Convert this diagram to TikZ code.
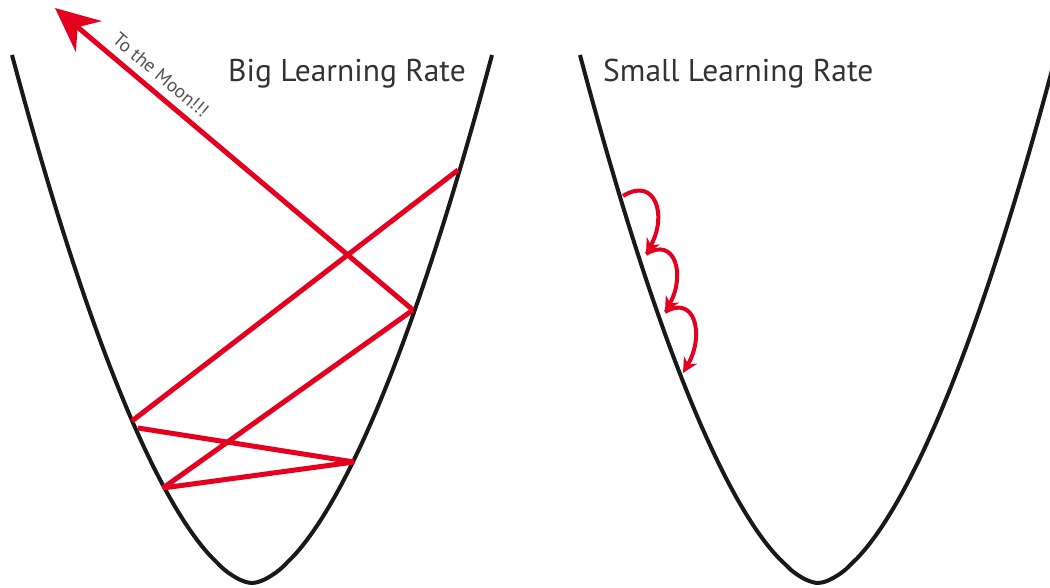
\documentclass[tikz,border=0pt]{standalone}
\usepackage{fontspec}
\setmainfont{PT Sans}
\usetikzlibrary{arrows.meta}
\definecolor{lrred}{HTML}{E5001F}
\definecolor{lrgray}{HTML}{333333}

\begin{document}
\begin{tikzpicture}[x=1pt,y=-1pt,
    bowl/.style={line width=4pt, black!90, smooth},
    jump/.style={line width=5pt, lrred},
    hop/.style={line width=4pt, lrred, -{Stealth[length=15pt,width=15pt]}},
    title/.style={anchor=base west, lrgray, inner sep=0pt, font=\fontsize{31.5}{36}\selectfont}
    ]
 \useasboundingbox (0,0) rectangle (1050,588);
 \clip (0,0) rectangle (1050,588);

 \draw [bowl] plot[domain=-240:240, samples=81] ({252+\x},{583-528*(abs(\x)/240)^1.7});
 \draw [bowl] plot[domain=-238:245, samples=81] ({818+\x},{583-528*(abs(\x)/238)^1.7});

 \node[title] (big) at (228,82) {Big Learning Rate};
 \node[title] (small) at (603,82) {Small Learning Rate};

    \coordinate (a) at (132,421);
    \coordinate (b) at (458,170);
    \coordinate (c) at (138,428);
    \coordinate (d) at (354,462);
    \coordinate (e) at (163,488);
    \coordinate (f) at (413,310);
    \coordinate (moon) at (55,8);
 \draw [jump] (a) -- (b);
 \draw [jump, line join=bevel] (c) -- (d) -- (e) -- (f);
 \draw [jump, -{Stealth[length=44pt,width=40pt]}] (f) -- (moon);
 \node[lrgray!85, rotate=-40.1, font=\fontsize{19}{22}\selectfont] (tomoon) at (161,75) {To the Moon!!!};

    \coordinate (s1) at (623,196);
    \coordinate (s2) at (646,254);
    \coordinate (s3) at (665,312);
    \coordinate (s4) at (683,373);
 \draw [hop] (s1) .. controls (655,176) and (668,215) .. (s2);
 \draw [hop] (s2) .. controls (675,236) and (686,275) .. (s3);
 \draw [hop] (s3) .. controls (695,294) and (705,335) .. (s4);

 \end{tikzpicture}
\end{document}
